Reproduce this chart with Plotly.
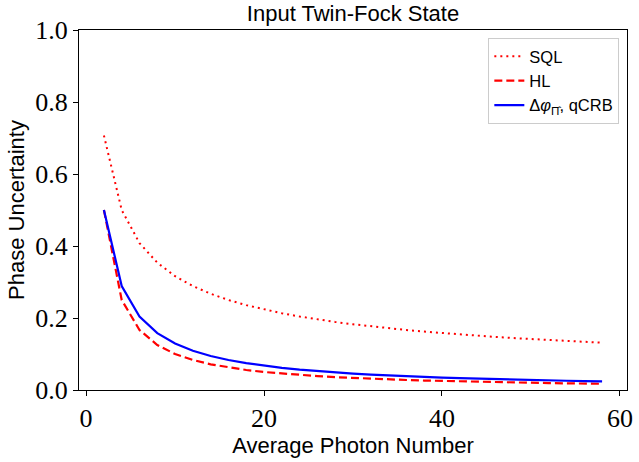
import plotly.graph_objects as go

N = [2, 4, 6, 8, 10, 12, 14, 16, 18, 20, 22, 24, 26, 28, 30,
     32, 34, 36, 38, 40, 42, 44, 46, 48, 50, 52, 54, 56, 58]

sql = [0.7071, 0.5, 0.4082, 0.3536, 0.3162, 0.2887, 0.2673, 0.25, 0.2357, 0.2236,
       0.2132, 0.2041, 0.1961, 0.1890, 0.1826, 0.1768, 0.1715, 0.1667, 0.1622, 0.1581,
       0.1543, 0.1508, 0.1474, 0.1443, 0.1414, 0.1387, 0.1361, 0.1336, 0.1313]

hl = [0.5, 0.25, 0.1667, 0.125, 0.1, 0.0833, 0.0714, 0.0625, 0.0556, 0.05,
      0.0455, 0.0417, 0.0385, 0.0357, 0.0333, 0.03125, 0.0294, 0.0278, 0.0263, 0.025,
      0.0238, 0.0227, 0.0217, 0.0208, 0.02, 0.0192, 0.0185, 0.0179, 0.0172]

qcrb = [0.5, 0.2887, 0.2041, 0.1581, 0.1291, 0.1091, 0.0945, 0.0833, 0.0745, 0.0674,
        0.0615, 0.0566, 0.0524, 0.0488, 0.0456, 0.0429, 0.0404, 0.0382, 0.0363, 0.0345,
        0.0329, 0.0314, 0.0301, 0.0289, 0.0277, 0.0267, 0.0257, 0.0248, 0.0240]

x_ticks = [0, 20, 40, 60]
y_ticks = [0.0, 0.2, 0.4, 0.6, 0.8, 1.0]
y_tick_labels = ["0.0", "0.2", "0.4", "0.6", "0.8", "1.0"]

fig = go.Figure()
fig.add_trace(go.Scatter(x=N, y=sql, mode="lines", name="SQL",
                         line=dict(color="#ff0000", width=2, dash="2px,4px")))
fig.add_trace(go.Scatter(x=N, y=hl, mode="lines", name="HL",
                         line=dict(color="#ff0000", width=2.2, dash="8px,4px")))
fig.add_trace(go.Scatter(x=N, y=qcrb, mode="lines",
                         name="Δ<i>φ</i><sub>Π̂</sub>, qCRB",
                         line=dict(color="#0000ff", width=2.2)))

serif = "Liberation Serif, DejaVu Serif, serif"
sans = "Liberation Sans, Arial, sans-serif"

fig.update_layout(
    width=639, height=462,
    margin=dict(l=79, r=6, t=30, b=72),
    paper_bgcolor="white", plot_bgcolor="white",
    title=dict(text="Input Twin-Fock State", x=0.5, xanchor="center",
               xref="paper", y=1 - 13 / 462, yanchor="middle",
               font=dict(family=sans, size=22, color="black")),
    showlegend=True,
    legend=dict(x=0.986, xanchor="right", y=0.978, yanchor="top",
                bgcolor="rgba(255,255,255,0.8)", bordercolor="#cccccc", borderwidth=1,
                font=dict(family=sans, size=16.5, color="black"),
                tracegroupgap=0, itemwidth=30),
    xaxis=dict(range=[-0.8, 60.8], tickvals=x_ticks, ticktext=[str(t) for t in x_ticks],
               showgrid=False, zeroline=False, showline=True, linecolor="black",
               linewidth=1.2, mirror=True, ticks="outside", ticklen=5, tickcolor="black",
               tickfont=dict(family=serif, size=26, color="black"),
               title=dict(text="Average Photon Number", standoff=4,
                          font=dict(family=sans, size=22, color="black"))),
    yaxis=dict(range=[0, 1.0], tickvals=y_ticks, ticktext=y_tick_labels,
               showgrid=False, zeroline=False, showline=True, linecolor="black",
               linewidth=1.2, mirror=True, ticks="outside", ticklen=5, tickcolor="black",
               tickfont=dict(family=serif, size=26, color="black"),
               title=dict(text="Phase Uncertainty", standoff=4,
                          font=dict(family=sans, size=22, color="black"))),
)

fig.write_html("out.html")
